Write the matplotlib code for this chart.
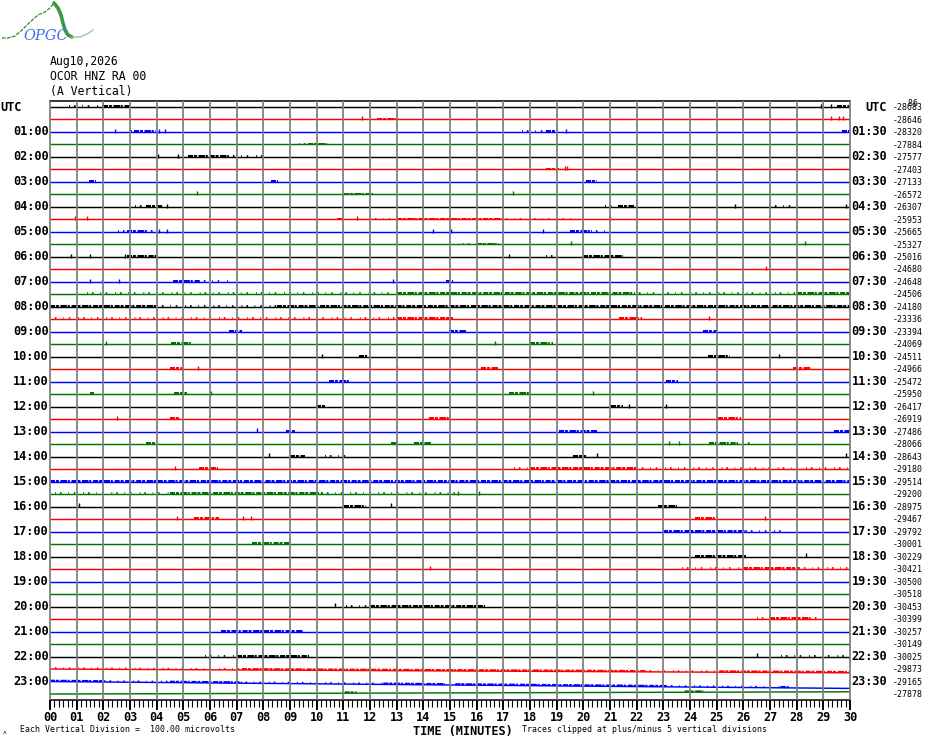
import matplotlib
matplotlib.use("Agg")
import matplotlib.pyplot as plt
from matplotlib.transforms import blended_transform_factory

# ---------------- data ----------------
date_text = "Aug10,2026"
station_text = "OCOR HNZ RA 00"
component_text = "(A Vertical)"
scale_text = "Each Vertical Division =  100.00 microvolts"
clip_text = "Traces clipped at plus/minus 5 vertical divisions"
xlabel_text = "TIME (MINUTES)"

minute_ticks = list(range(31))
minute_labels = ["00", "01", "02", "03", "04", "05", "06", "07", "08", "09",
                 "10", "11", "12", "13", "14", "15", "16", "17", "18", "19",
                 "20", "21", "22", "23", "24", "25", "26", "27", "28", "29", "30"]

n_traces = 48
trace_colors = ["#000000", "#ff0000", "#0000ff", "#007400"]

label_rows = [0, 2, 4, 6, 8, 10, 12, 14, 16, 18, 20, 22, 24, 26, 28, 30,
              32, 34, 36, 38, 40, 42, 44, 46]
left_labels = ["UTC", "01:00", "02:00", "03:00", "04:00", "05:00", "06:00",
               "07:00", "08:00", "09:00", "10:00", "11:00", "12:00", "13:00",
               "14:00", "15:00", "16:00", "17:00", "18:00", "19:00", "20:00",
               "21:00", "22:00", "23:00"]
right_labels = ["UTC", "01:30", "02:30", "03:30", "04:30", "05:30", "06:30",
                "07:30", "08:30", "09:30", "10:30", "11:30", "12:30", "13:30",
                "14:30", "15:30", "16:30", "17:30", "18:30", "19:30", "20:30",
                "21:30", "22:30", "23:30"]

trace_means = [-28683, -28646, -28320, -27884, -27577, -27403, -27133, -26572,
               -26307, -25953, -25665, -25327, -25016, -24680, -24648, -24506,
               -24180, -23336, -23394, -24069, -24511, -24966, -25472, -25950,
               -26417, -26919, -27486, -28066, -28643, -29180, -29514, -29200,
               -28975, -29467, -29792, -30001, -30229, -30421, -30500, -30518,
               -30453, -30399, -30257, -30149, -30025, -29873, -29165, -27878]

# baseline drift at the end of a trace (divisions), start is 0
drift_rows = [45, 46, 47]
drift_end = [0.30, 0.55, -0.18]

# signal bursts: (trace, start minute, end minute, kind)
bursts = [
    (0, 0.7, 2.0, "s"), (0, 2.0, 3.05, "d"), (0, 29.5, 30.0, "d"),
    (1, 12.25, 13.1, "d"),
    (2, 3.05, 3.16, "s"), (2, 3.16, 3.97, "d"), (2, 17.7, 18.6, "s"),
    (2, 18.6, 18.97, "d"), (2, 29.7, 30.0, "d"),
    (3, 9.35, 9.66, "s"), (3, 9.66, 10.4, "d"),
    (4, 5.16, 6.66, "d"), (4, 6.66, 8.0, "s"),
    (5, 18.6, 19.1, "d"),
    (6, 1.45, 1.72, "d"), (6, 8.3, 8.55, "d"), (6, 20.1, 20.5, "d"),
    (7, 11.04, 12.1, "d"),
    (8, 3.2, 3.6, "s"), (8, 3.6, 4.2, "d"), (8, 20.8, 21.3, "s"),
    (8, 21.3, 21.9, "d"), (8, 27.0, 27.8, "s"),
    (9, 10.75, 11.0, "d"), (9, 12.0, 13.0, "s"), (9, 13.0, 16.9, "d"),
    (9, 16.9, 19.6, "s"),
    (10, 2.56, 2.9, "s"), (10, 2.9, 3.6, "d"), (10, 3.6, 3.9, "s"),
    (10, 19.5, 20.3, "d"), (10, 20.3, 21.0, "s"),
    (11, 15.5, 16.0, "s"), (11, 16.0, 16.85, "d"),
    (12, 2.9, 3.97, "d"), (12, 18.6, 19.0, "s"), (12, 20.0, 21.5, "d"),
    (14, 4.6, 5.6, "d"), (14, 5.6, 6.7, "s"), (14, 14.85, 15.1, "d"),
    (15, 1.4, 13.0, "s"), (15, 13.0, 21.9, "d"), (15, 21.9, 28.0, "s"),
    (15, 28.0, 30.0, "d"),
    (16, 0.0, 4.0, "d"), (16, 4.0, 8.5, "s"), (16, 8.5, 30.0, "d"),
    (17, 0.0, 13.0, "s"), (17, 13.0, 15.1, "d"), (17, 21.35, 22.2, "d"),
    (18, 6.7, 7.2, "d"), (18, 14.95, 15.6, "d"), (18, 24.5, 25.0, "d"),
    (19, 4.55, 5.3, "d"), (19, 18.0, 18.85, "d"),
    (20, 11.6, 11.9, "d"), (20, 24.66, 25.5, "d"),
    (21, 4.5, 4.95, "d"), (21, 16.15, 16.8, "d"), (21, 27.85, 28.55, "d"),
    (22, 10.45, 11.2, "d"), (22, 23.1, 23.55, "d"),
    (23, 1.5, 1.65, "d"), (23, 4.65, 5.15, "d"), (23, 17.2, 18.05, "d"),
    (24, 9.97, 10.3, "d"), (24, 21.05, 21.5, "d"),
    (25, 4.5, 4.85, "d"), (25, 14.2, 15.05, "d"), (25, 25.05, 25.9, "d"),
    (26, 8.85, 9.2, "d"), (26, 19.1, 20.5, "d"), (26, 29.4, 30.0, "d"),
    (27, 3.6, 3.97, "d"), (27, 12.8, 13.0, "d"), (27, 13.65, 14.3, "d"),
    (27, 24.7, 25.8, "d"), (27, 26.0, 26.4, "s"),
    (28, 9.0, 9.55, "d"), (28, 10.3, 11.3, "s"), (28, 19.6, 20.1, "d"),
    (29, 5.6, 6.3, "d"), (29, 17.4, 18.0, "s"), (29, 18.0, 22.0, "d"),
    (29, 22.0, 30.0, "s"),
    (30, 0.0, 30.0, "d"),
    (31, 0.2, 4.5, "s"), (31, 4.5, 10.2, "d"), (31, 10.2, 15.2, "s"),
    (32, 11.04, 11.85, "d"), (32, 22.8, 23.5, "d"),
    (33, 5.4, 6.35, "d"), (33, 24.2, 25.0, "d"),
    (34, 23.0, 26.1, "d"), (34, 26.1, 27.4, "s"),
    (35, 7.56, 8.97, "d"),
    (36, 24.2, 26.1, "d"),
    (37, 23.7, 26.0, "s"), (37, 26.0, 28.1, "d"), (37, 28.1, 30.0, "s"),
    (40, 11.1, 12.0, "s"), (40, 12.0, 16.3, "d"),
    (41, 26.5, 27.0, "s"), (41, 27.0, 28.5, "d"), (41, 28.5, 29.0, "s"),
    (42, 6.4, 9.5, "d"),
    (44, 5.8, 7.0, "s"), (44, 7.0, 9.7, "d"), (44, 27.4, 30.0, "s"),
    (45, 0.0, 7.2, "s"), (45, 7.2, 22.3, "d"), (45, 22.3, 25.1, "s"),
    (45, 25.1, 30.0, "d"),
    (46, 0.0, 2.05, "d"), (46, 2.05, 4.5, "s"), (46, 4.5, 7.15, "d"),
    (46, 7.15, 12.5, "s"), (46, 12.5, 14.8, "d"), (46, 15.2, 23.1, "d"),
    (46, 23.1, 27.4, "s"), (46, 27.4, 27.7, "d"),
    (47, 11.05, 11.5, "d"), (47, 23.8, 24.5, "d"),
]

# isolated spikes: (trace, minute)
spikes = [
    (0, 28.9), (0, 29.3), (1, 11.7), (1, 29.3), (1, 29.6), (1, 29.75),
    (2, 2.45), (2, 4.1), (2, 4.3), (2, 19.35), (4, 4.04), (4, 4.8),
    (5, 19.3), (5, 19.4), (7, 5.5), (7, 17.35), (8, 4.4), (8, 25.7),
    (8, 29.85), (9, 0.94), (9, 1.37), (9, 11.5), (9, 21.0), (10, 4.1),
    (10, 4.4), (10, 14.35), (10, 15.05), (10, 18.5), (11, 19.55),
    (11, 28.3), (12, 0.8), (12, 1.5), (12, 2.8), (12, 17.2), (13, 26.85),
    (14, 1.5), (14, 1.95), (14, 2.6), (14, 12.85), (17, 24.7), (19, 2.1),
    (19, 16.7), (20, 10.2), (20, 27.35), (21, 5.55), (21, 13.0),
    (23, 6.05), (23, 20.35), (24, 21.7), (24, 23.1), (25, 2.5), (26, 7.75),
    (27, 23.2), (27, 23.6), (28, 8.2), (28, 20.5), (28, 29.85), (29, 4.7),
    (31, 15.3), (31, 16.1), (32, 1.1), (32, 12.8), (33, 4.75), (33, 7.25),
    (33, 7.55), (33, 26.8), (36, 28.35), (37, 14.25), (40, 10.7),
    (40, 19.0), (44, 26.5),
]

# ---------------- figure ----------------
W, H = 930, 744
fig = plt.figure(figsize=(W / 100, H / 100), dpi=100)
fig.patch.set_facecolor("white")

ax_left, ax_right = 50, 850
ax_top, ax_bot = 101, 700
ax = fig.add_axes([ax_left / W, 1 - ax_bot / H,
                   (ax_right - ax_left) / W, (ax_bot - ax_top) / H])
spacing = 12.49
first_trace_px = 107
y_top = -(first_trace_px - ax_top) / spacing
y_bot = (ax_bot - first_trace_px) / spacing
ax.set_xlim(0, 30)
ax.set_ylim(y_bot, y_top)
ax.set_facecolor("white")

for s in ["left", "right"]:
    ax.spines[s].set_visible(False)
ax.spines["top"].set_color("black")
ax.spines["top"].set_linewidth(1.1)
ax.spines["bottom"].set_color("black")
ax.spines["bottom"].set_linewidth(1.1)

drift_map = dict(zip(drift_rows, drift_end))


def base_y(i, x):
    return i + drift_map.get(i, 0.0) * x / 30.0


# traces
for i in range(n_traces):
    c = trace_colors[i % 4]
    ax.plot([0, 30], [base_y(i, 0), base_y(i, 30)], color=c, lw=1.05,
            solid_capstyle="butt", zorder=3)

up = 0.07
for (i, x0, x1, kind) in bursts:
    c = trace_colors[i % 4]
    ys = [base_y(i, x0) - up, base_y(i, x1) - up]
    ln, = ax.plot([x0, x1], ys, color=c, zorder=4)
    if kind == "d":
        ln.set_linewidth(1.45)
        ln.set_dashes([2.5, 0.5, 1.4, 0.8, 3.2, 0.4, 1.0, 0.9])
    else:
        ln.set_linewidth(1.3)
        ln.set_dashes([0.5, 2.2, 0.9, 3.6, 0.4, 2.8, 0.8, 4.4])
    ln.set_dash_capstyle("butt")

for (i, x) in spikes:
    c = trace_colors[i % 4]
    ax.plot([x], [base_y(i, x) - 0.1], marker="|", ms=2.2, mew=1.0,
            color=c, zorder=4)

# minute grid
ax.vlines(minute_ticks, y_bot, y_top, colors="#808080", lw=1.3, zorder=5,
          clip_on=False)

# x ticks
ax.set_xticks(minute_ticks)
ax.set_xticks([m / 6 for m in range(181)], minor=True)
ax.set_xticklabels(minute_labels)
ax.set_yticks([])
ax.tick_params(axis="x", which="major", direction="out", length=7.4,
               width=1.4, color="black", pad=0.6, labelsize=8.6)
ax.tick_params(axis="x", which="minor", direction="out", length=5.0,
               width=0.8, color="black")
for lbl in ax.get_xticklabels():
    lbl.set_fontfamily("DejaVu Sans Mono")
    lbl.set_fontweight("bold")

# row labels
trans = blended_transform_factory(fig.transFigure, ax.transData)
big = dict(family="DejaVu Sans Mono", fontweight="bold", fontsize=8.6)
small = dict(family="DejaVu Sans Mono", fontsize=5.95)
for r, lt, rt in zip(label_rows, left_labels, right_labels):
    if lt == "UTC":
        ax.text(0.5 / W, r, lt, transform=trans, ha="left", va="center", **big)
    else:
        ax.text(48.5 / W, r, lt, transform=trans, ha="right", va="center", **big)
    ax.text(887 / W, r, rt, transform=trans, ha="right", va="center", **big)

for i, v in enumerate(trace_means):
    ax.text(893 / W, i + 0.05, f"{v}", transform=trans, ha="left",
            va="center", **small)
ax.text(893 / W, -0.25, "   86", transform=trans, ha="left", va="center",
        **small)

# header
hdr = dict(family="DejaVu Sans Mono", fontsize=8.3)
fig.text(49.5 / W, 1 - 62 / H, date_text, ha="left", va="center", **hdr)
fig.text(49.5 / W, 1 - 77 / H, station_text, ha="left", va="center", **hdr)
fig.text(49.5 / W, 1 - 92 / H, component_text, ha="left", va="center", **hdr)

# footer
fig.text(20.5 / W, 1 - 730 / H, scale_text, ha="left", va="center", **small)
fig.text(521.5 / W, 1 - 730 / H, clip_text, ha="left", va="center", **small)
fig.text(413 / W, 1 - 735 / H, xlabel_text, ha="left", va="baseline", **big)
fig.text(3 / W, 1 - 732 / H, "\u028c", ha="left", va="center",
         family="DejaVu Sans", fontsize=4.5)

# logo
lax = fig.add_axes([0, 1 - 45 / H, 100 / W, 45 / H])
lax.set_xlim(0, 100)
lax.set_ylim(45, 0)
lax.axis("off")
lax.plot([2, 8, 15, 22, 30, 38, 45, 50, 54], [38, 38, 36, 30, 22, 15, 12, 8, 3],
         color="#2e8b2e", lw=0.9, ls=(0, (3, 1)))
lax.plot([54, 58, 61, 63, 65, 68, 72], [3, 8, 15, 23, 30, 35, 37],
         color="#3a9a3a", lw=2.6, solid_capstyle="round")
lax.plot([72, 80, 87, 93], [37, 37, 34, 30], color="#9acd9a", lw=1.0)
lax.text(46, 36, "OPGC", ha="center", va="center", color="#3f6fe0",
         fontsize=10.5, fontstyle="italic", family="DejaVu Serif")

fig.savefig("out.png", dpi=100, facecolor="white")
